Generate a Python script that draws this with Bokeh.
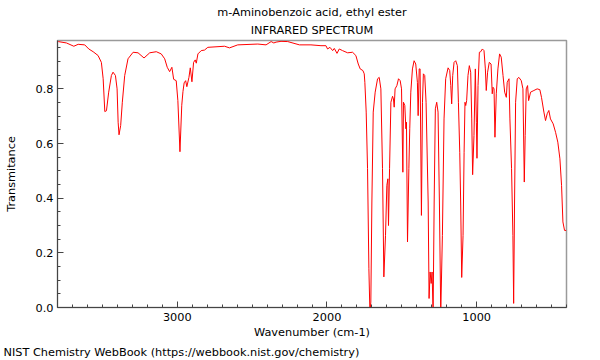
from bokeh.plotting import figure
from bokeh.models import Range1d, FixedTicker, Title, NumeralTickFormatter, ColumnDataSource
from bokeh.embed import file_html
from bokeh.resources import INLINE

# ---- data ----
wavenumber = [
    3795, 3740, 3691, 3662, 3618, 3591, 3562, 3529, 3507, 3495, 3484, 3473, 3458, 3440,
    3429, 3413, 3402, 3395, 3389, 3378, 3367, 3351, 3329, 3295, 3262, 3222, 3184, 3140,
    3107, 3084, 3067, 3051, 3036, 3024, 3007, 2996, 2982, 2970, 2962, 2954, 2944, 2936,
    2922, 2913, 2902, 2891, 2880, 2873, 2862, 2840, 2818, 2796, 2684, 2651, 2596, 2462,
    2407, 2373, 2355, 2340, 2307, 2262, 2184, 2107, 2040, 2007, 1996, 1980, 1962, 1951,
    1933, 1918, 1896, 1862, 1829, 1807, 1791, 1778, 1760, 1751, 1747, 1738, 1729, 1720,
    1713, 1707, 1700, 1691, 1678, 1662, 1651, 1640, 1629, 1620, 1609, 1600, 1593, 1589,
    1582, 1573, 1562, 1556, 1551, 1545, 1533, 1522, 1511, 1502, 1493, 1489, 1480, 1473,
    1469, 1462, 1453, 1447, 1440, 1429, 1418, 1407, 1396, 1391, 1384, 1378, 1369, 1362,
    1356, 1347, 1338, 1324, 1318, 1311, 1304, 1298, 1291, 1284, 1276, 1267, 1258, 1249,
    1240, 1229, 1218, 1207, 1191, 1180, 1173, 1167, 1160, 1151, 1140, 1129, 1122, 1113,
    1107, 1100, 1091, 1084, 1078, 1073, 1067, 1058, 1049, 1040, 1033, 1027, 1018, 1009,
    1002, 998, 991, 982, 973, 962, 951, 942, 936, 927, 916, 904, 896, 891,
    884, 878, 869, 858, 847, 836, 824, 813, 802, 796, 784, 778, 767, 758,
    753, 747, 740, 729, 718, 702, 691, 682, 676, 669, 660, 653, 640, 618,
    596, 578, 567, 551, 540, 529, 518, 507, 489, 473, 458, 444, 433, 424,
    413, 402,
]
transmittance = [
    0.973, 0.968, 0.956, 0.963, 0.961, 0.946, 0.936, 0.922, 0.897, 0.837, 0.717, 0.720, 0.788, 0.849,
    0.861, 0.849, 0.800, 0.678, 0.632, 0.666, 0.751, 0.849, 0.910, 0.934, 0.932, 0.913, 0.932, 0.936,
    0.928, 0.910, 0.879, 0.863, 0.879, 0.835, 0.830, 0.757, 0.570, 0.740, 0.790, 0.822, 0.830, 0.808,
    0.842, 0.877, 0.826, 0.897, 0.906, 0.894, 0.928, 0.940, 0.942, 0.952, 0.956, 0.950, 0.961, 0.964,
    0.961, 0.973, 0.968, 0.971, 0.974, 0.973, 0.961, 0.961, 0.958, 0.958, 0.946, 0.952, 0.940, 0.948,
    0.930, 0.946, 0.940, 0.932, 0.934, 0.922, 0.891, 0.873, 0.867, 0.855, 0.824, 0.715, 0.508, 0.142,
    -0.020, 0.020, 0.386, 0.715, 0.788, 0.837, 0.842, 0.800, 0.508, 0.112, 0.264, 0.447, 0.471, 0.300,
    0.508, 0.751, 0.773, 0.763, 0.733, 0.800, 0.812, 0.837, 0.830, 0.800, 0.495, 0.751, 0.739, 0.654,
    0.678, 0.240, 0.508, 0.654, 0.788, 0.873, 0.903, 0.891, 0.824, 0.702, 0.873, 0.873, 0.337, 0.751,
    0.855, 0.849, 0.751, 0.386, 0.033, 0.130, 0.088, 0.130, -0.020, 0.386, 0.727, 0.751, 0.715, 0.386,
    -0.020, 0.264, 0.690, 0.837, 0.877, 0.867, 0.812, 0.745, 0.849, 0.897, 0.903, 0.885, 0.751, 0.568,
    0.386, 0.110, 0.264, 0.568, 0.751, 0.739, 0.757, 0.849, 0.885, 0.861, 0.690, 0.486, 0.629, 0.873,
    0.678, 0.546, 0.812, 0.934, 0.936, 0.946, 0.940, 0.873, 0.794, 0.861, 0.897, 0.891, 0.782, 0.806,
    0.800, 0.623, 0.782, 0.873, 0.928, 0.916, 0.849, 0.788, 0.769, 0.824, 0.837, 0.690, 0.508, 0.264,
    0.015, 0.386, 0.751, 0.837, 0.842, 0.830, 0.800, 0.459, 0.629, 0.800, 0.812, 0.757, 0.788, 0.794,
    0.800, 0.797, 0.769, 0.715, 0.684, 0.709, 0.721, 0.690, 0.672, 0.641, 0.605, 0.544, 0.447, 0.313,
    0.282, 0.282,
]

x_major_ticks = [1000, 2000, 3000]
x_minor_ticks = [400, 500, 600, 700, 800, 900, 1100, 1200, 1300, 1400, 1500, 1600, 1700, 1800,
                 1900, 2100, 2200, 2300, 2400, 2500, 2600, 2700, 2800, 2900, 3100, 3200, 3300,
                 3400, 3500, 3600, 3700, 3800]
y_major_ticks = [0.0, 0.2, 0.4, 0.6, 0.8]
y_minor_ticks = [0.05, 0.1, 0.15, 0.25, 0.3, 0.35, 0.45, 0.5, 0.55, 0.65, 0.7, 0.75, 0.85, 0.9, 0.95]

title_main = "m-Aminobenzoic acid, ethyl ester"
title_sub = "INFRARED SPECTRUM"
x_label = "Wavenumber (cm-1)"
y_label = "Transmitance"
footer_text = "NIST Chemistry WebBook (https://webbook.nist.gov/chemistry)"

FONT = "DejaVu Sans"
FSIZE = "11.3px"
TXT = "#000000"

source = ColumnDataSource(data=dict(wn=wavenumber, t=transmittance))

p = figure(width=600, height=360, x_range=Range1d(3800, 400), y_range=Range1d(0, 0.977),
           output_backend="svg", toolbar_location=None,
           min_border_left=57, min_border_right=34, min_border_top=40, min_border_bottom=53,
           title=title_main)

# outer title line (main)
p.title.align = "center"
p.title.text_font = FONT
p.title.text_font_size = FSIZE
p.title.text_font_style = "normal"
p.title.text_color = TXT
p.title.standoff = 0

# inner title line (sub), closest to the frame
t2 = Title(text=title_sub, align="center", text_font=FONT, text_font_size=FSIZE,
           text_font_style="normal", text_color=TXT, standoff=7)
p.add_layout(t2, "above")

foot = Title(text=footer_text, align="left", offset=-54, text_font=FONT, text_font_size=FSIZE,
             text_font_style="normal", text_color=TXT, standoff=4)
p.add_layout(foot, "below")

p.line("wn", "t", source=source, line_color="#ff0000", line_width=1)

p.xgrid.visible = False
p.ygrid.visible = False
p.outline_line_color = "#9a9a9a"
p.outline_line_width = 1.5

p.xaxis.ticker = FixedTicker(ticks=x_major_ticks, minor_ticks=x_minor_ticks)
p.yaxis.ticker = FixedTicker(ticks=y_major_ticks, minor_ticks=y_minor_ticks)
p.yaxis.formatter = NumeralTickFormatter(format="0.0")

p.xaxis.axis_label = x_label
p.yaxis.axis_label = y_label

for ax in (p.xaxis[0], p.yaxis[0]):
    ax.axis_line_color = "#444444"
    ax.major_tick_line_color = "#444444"
    ax.minor_tick_line_color = "#444444"
    ax.major_tick_in = 6
    ax.major_tick_out = 0
    ax.minor_tick_in = 3
    ax.minor_tick_out = 0
    ax.major_label_text_font = FONT
    ax.major_label_text_font_size = FSIZE
    ax.major_label_text_color = TXT
    ax.axis_label_text_font = FONT
    ax.axis_label_text_font_size = FSIZE
    ax.axis_label_text_font_style = "normal"
    ax.axis_label_text_color = TXT

p.xaxis.major_label_standoff = 5
p.xaxis.axis_label_standoff = 2
p.yaxis.major_label_standoff = 4
p.yaxis.axis_label_standoff = 15

open("out.html", "w").write(file_html(p, INLINE))
